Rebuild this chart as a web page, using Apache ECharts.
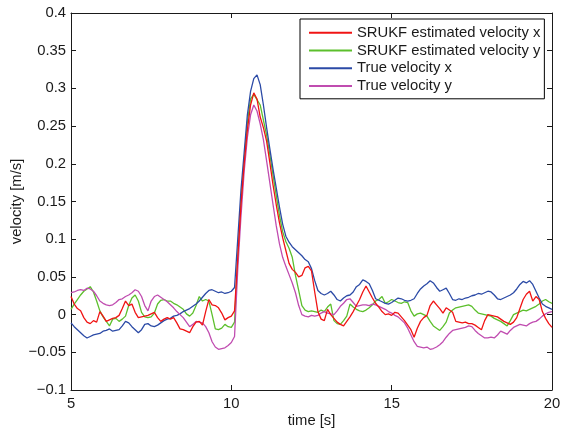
<!DOCTYPE html>
<html>
<head>
<meta charset="utf-8">
<script src="https://cdn.jsdelivr.net/npm/echarts@6/dist/echarts.min.js"></script>
<style>
  html, body { margin: 0; padding: 0; background: #fff; }
  #chart { width: 561px; height: 433px; }
</style>
</head>
<body>
<div id="chart"></div>
<script>
// samples every 0.1 s from 5 s to 20 s
var tStart = 5;
var tStep = 0.1;

var seriesNames = ['SRUKF estimated velocity x', 'SRUKF estimated velocity y', 'True velocity x', 'True velocity y'];
var seriesColors = ['#f01414', '#5cbf2c', '#2b4aa6', '#c04cb0'];

var estVx = [
    0.024, 0.014, 0.008, 0.005, -0.004, -0.010, -0.012, -0.008, -0.010, 0.004,
    -0.002, -0.009, -0.007, -0.005, -0.004, -0.001, 0.008, 0.018, 0.012, 0.014,
    0.003, -0.004, -0.003, -0.002, -0.001, 0.001, 0.003, -0.004, -0.009, -0.006,
    -0.004, -0.006, -0.004, -0.011, -0.019, -0.020, -0.022, -0.024, -0.016, -0.010,
    -0.009, -0.014, 0.004, 0.020, 0.013, 0.012, 0.009, 0.002, -0.007, -0.004,
    -0.002, 0.005, 0.075, 0.145, 0.200, 0.245, 0.278, 0.294, 0.286, 0.262,
    0.248, 0.230, 0.202, 0.172, 0.146, 0.122, 0.102, 0.085, 0.068, 0.060,
    0.056, 0.050, 0.052, 0.062, 0.064, 0.058, 0.030, 0.004, -0.006, -0.008,
    0.007, 0.000, -0.005, -0.010, -0.013, -0.015, -0.009, -0.003, 0.004, 0.012,
    0.020, 0.030, 0.038, 0.030, 0.022, 0.015, 0.010, 0.004, 0.000, 0.001,
    -0.001, 0.003, 0.002, -0.003, -0.008, -0.014, -0.020, -0.030, -0.018, -0.009,
    -0.004, -0.001, 0.012, 0.018, 0.013, 0.008, 0.002, 0.009, 0.006, 0.003,
    -0.009, -0.010, -0.011, -0.010, -0.012, -0.012, -0.014, -0.017, -0.020, -0.008,
    0.000, -0.001, -0.002, -0.003, -0.006, -0.009, -0.011, -0.013, -0.010, -0.004,
    0.008, 0.020, 0.027, 0.031, 0.018, 0.024, 0.020, 0.004, -0.005, -0.012,
    -0.017
];

var estVy = [
    0.007, 0.014, 0.020, 0.026, 0.031, 0.034, 0.037, 0.030, 0.018, 0.005,
    -0.003, -0.009, -0.015, -0.006, -0.005, -0.009, -0.006, -0.002, 0.012, 0.022,
    0.026, 0.018, 0.003, -0.003, -0.004, -0.003, 0.002, 0.014, 0.019, 0.020,
    0.018, 0.018, 0.015, 0.013, 0.010, 0.007, 0.001, -0.002, 0.002, 0.012,
    0.024, 0.018, 0.020, 0.018, 0.000, -0.019, -0.020, -0.018, -0.013, -0.016,
    -0.017, -0.010, 0.075, 0.150, 0.205, 0.255, 0.286, 0.292, 0.285, 0.278,
    0.258, 0.238, 0.212, 0.185, 0.158, 0.132, 0.110, 0.097, 0.088, 0.076,
    0.052, 0.032, 0.012, 0.006, 0.004, 0.005, 0.004, 0.003, 0.006, 0.004,
    0.010, 0.014, -0.008, -0.012, -0.013, -0.008, -0.002, 0.014, 0.010, 0.007,
    0.005, 0.004, 0.006, 0.009, 0.013, 0.018, 0.020, 0.024, 0.015, 0.017,
    0.020, 0.018, 0.016, 0.015, 0.017, 0.016, 0.005, -0.002, 0.001, 0.002,
    0.000, -0.002, -0.009, -0.015, -0.018, -0.021, -0.016, -0.010, 0.002, 0.006,
    0.009, 0.010, 0.011, 0.012, 0.013, 0.011, 0.006, 0.002, 0.001, 0.000,
    -0.001, -0.002, -0.005, -0.007, -0.009, -0.012, -0.015, -0.008, 0.000, 0.002,
    0.004, 0.006, 0.005, 0.007, 0.009, 0.011, 0.014, 0.018, 0.020, 0.017,
    0.015
];

var trueVx = [
    -0.011, -0.016, -0.020, -0.024, -0.028, -0.031, -0.029, -0.027, -0.026, -0.025,
    -0.022, -0.021, -0.019, -0.022, -0.021, -0.020, -0.015, -0.009, -0.011, -0.016,
    -0.020, -0.024, -0.020, -0.013, -0.012, -0.015, -0.016, -0.014, -0.011, -0.008,
    -0.006, -0.005, -0.002, -0.001, 0.001, 0.004, 0.006, 0.008, 0.011, 0.014,
    0.018, 0.023, 0.028, 0.032, 0.033, 0.031, 0.029, 0.030, 0.028, 0.029,
    0.031, 0.036, 0.100, 0.165, 0.215, 0.265, 0.296, 0.313, 0.318, 0.305,
    0.278, 0.248, 0.220, 0.193, 0.168, 0.143, 0.120, 0.104, 0.096, 0.090,
    0.086, 0.082, 0.078, 0.073, 0.070, 0.061, 0.045, 0.032, 0.028, 0.026,
    0.028, 0.031, 0.026, 0.020, 0.018, 0.022, 0.025, 0.026, 0.030, 0.037,
    0.040, 0.046, 0.044, 0.041, 0.032, 0.021, 0.019, 0.017, 0.015, 0.014,
    0.016, 0.019, 0.022, 0.021, 0.019, 0.018, 0.019, 0.021, 0.028, 0.034,
    0.038, 0.041, 0.045, 0.042, 0.036, 0.031, 0.033, 0.035, 0.028, 0.020,
    0.019, 0.021, 0.020, 0.022, 0.023, 0.025, 0.026, 0.028, 0.027, 0.029,
    0.031, 0.030, 0.026, 0.021, 0.020, 0.022, 0.024, 0.026, 0.029, 0.034,
    0.040, 0.044, 0.042, 0.045, 0.040, 0.031, 0.022, 0.014, 0.011, 0.009,
    0.007
];

var trueVy = [
    0.029, 0.030, 0.032, 0.033, 0.032, 0.035, 0.034, 0.031, 0.025, 0.018,
    0.015, 0.013, 0.012, 0.013, 0.016, 0.020, 0.021, 0.024, 0.026, 0.029,
    0.033, 0.031, 0.024, 0.012, 0.005, 0.018, 0.024, 0.026, 0.023, 0.020,
    0.017, 0.013, 0.009, 0.004, 0.000, -0.004, -0.010, -0.016, -0.013, -0.009,
    -0.010, -0.011, -0.016, -0.024, -0.036, -0.043, -0.046, -0.045, -0.044, -0.041,
    -0.037, -0.029, 0.060, 0.130, 0.190, 0.235, 0.265, 0.278, 0.270, 0.253,
    0.232, 0.204, 0.175, 0.146, 0.118, 0.094, 0.076, 0.064, 0.053, 0.042,
    0.029, 0.012, 0.000, -0.002, -0.003, -0.001, -0.002, -0.001, 0.002, 0.004,
    0.002, 0.001, 0.000, 0.005, 0.011, 0.015, 0.020, 0.021, 0.016, 0.011,
    0.012, 0.013, 0.013, 0.012, 0.014, 0.013, 0.011, 0.009, 0.007, 0.004,
    0.002, -0.001, -0.003, -0.007, -0.011, -0.018, -0.027, -0.036, -0.042, -0.043,
    -0.044, -0.043, -0.046, -0.045, -0.043, -0.040, -0.036, -0.030, -0.025, -0.021,
    -0.020, -0.019, -0.018, -0.017, -0.015, -0.016, -0.021, -0.025, -0.028, -0.031,
    -0.031, -0.030, -0.031, -0.027, -0.022, -0.024, -0.026, -0.021, -0.017, -0.015,
    -0.013, -0.014, -0.015, -0.012, -0.010, -0.009, -0.006, -0.002, 0.001, 0.003,
    0.004
];

var yTickLabels = {
    '-0.1': '\u22120.1', '-0.05': '\u22120.05', '0': '0', '0.05': '0.05',
    '0.1': '0.1', '0.15': '0.15', '0.2': '0.2', '0.25': '0.25',
    '0.3': '0.3', '0.35': '0.35', '0.4': '0.4'
};

function toPairs(values) {
    return values.map(function (v, i) {
        return [+(tStart + i * tStep).toFixed(2), v];
    });
}

var allSeries = [estVx, estVy, trueVx, trueVy];

var chart = echarts.init(document.getElementById('chart'), null, { renderer: 'canvas' });

var fontFamily = '"Liberation Sans", Arial, Helvetica, sans-serif';
var fontSize = 14.8;
var axisColor = '#1a1a1a';

var option = {
    animation: false,
    backgroundColor: '#fff',
    textStyle: { fontFamily: fontFamily },
    grid: { left: 71, right: 9, top: 13, bottom: 43, containLabel: false, outerBoundsMode: 'none' },
    legend: {
        orient: 'vertical',
        left: 300,
        top: 19,
        padding: [5, 4, 4, 9],
        itemGap: 0,
        itemWidth: 43,
        itemHeight: 2,
        itemTextGap: 6,
        icon: 'rect',
        backgroundColor: '#fff',
        borderColor: '#000',
        borderWidth: 1,
        textStyle: { fontSize: fontSize, color: axisColor, lineHeight: 17.7, fontFamily: fontFamily },
        data: seriesNames.map(function (n, i) {
            return { name: n, itemStyle: { color: seriesColors[i] } };
        })
    },
    xAxis: [
        {
            type: 'value', min: 5, max: 20, interval: 5,
            name: 'time [s]', nameLocation: 'middle', nameGap: 23, nameMoveOverlap: false,
            nameTextStyle: { fontSize: fontSize, color: axisColor },
            axisLine: { onZero: false, lineStyle: { color: axisColor, width: 1 } },
            axisTick: { inside: true, length: 5, lineStyle: { color: axisColor } },
            axisLabel: { fontSize: fontSize, color: axisColor, margin: 6 },
            splitLine: { show: false }
        },
        {
            type: 'value', min: 5, max: 20, interval: 5, position: 'top',
            axisLine: { onZero: false, lineStyle: { color: axisColor, width: 1 } },
            axisTick: { inside: true, length: 5, lineStyle: { color: axisColor } },
            axisLabel: { show: false },
            splitLine: { show: false }
        }
    ],
    yAxis: [
        {
            type: 'value', min: -0.1, max: 0.4, interval: 0.05,
            name: 'velocity [m/s]', nameLocation: 'middle', nameGap: 47, nameMoveOverlap: false,
            nameTextStyle: { fontSize: fontSize, color: axisColor },
            axisLine: { show: true, onZero: false, lineStyle: { color: axisColor, width: 1 } },
            axisTick: { show: true, inside: true, length: 5, lineStyle: { color: axisColor } },
            axisLabel: {
                fontSize: fontSize, color: axisColor, margin: 5,
                formatter: function (v) {
                    var key = String(+v.toFixed(2));
                    return yTickLabels[key] !== undefined ? yTickLabels[key] : key;
                }
            },
            splitLine: { show: false }
        },
        {
            type: 'value', min: -0.1, max: 0.4, interval: 0.05, position: 'right',
            axisLine: { show: true, onZero: false, lineStyle: { color: axisColor, width: 1 } },
            axisTick: { show: true, inside: true, length: 5, lineStyle: { color: axisColor } },
            axisLabel: { show: false },
            splitLine: { show: false }
        }
    ],
    series: allSeries.map(function (vals, i) {
        return {
            name: seriesNames[i],
            type: 'line',
            xAxisIndex: 0,
            yAxisIndex: 0,
            data: toPairs(vals),
            showSymbol: false,
            symbol: 'none',
            lineStyle: { color: seriesColors[i], width: 1.3 },
            itemStyle: { color: seriesColors[i] },
            z: i === 0 ? 5 : 2
        };
    })
};

chart.setOption(option);
</script>
</body>
</html>
